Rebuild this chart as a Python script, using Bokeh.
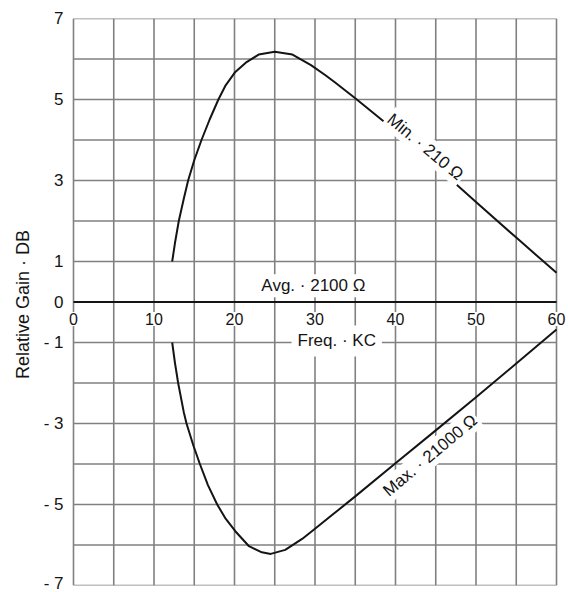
from bokeh.plotting import figure
from bokeh.models import FixedTicker, Label, Grid
from bokeh.embed import file_html
from bokeh.resources import INLINE

# ---- data ----
x_tick_values = [0, 10, 20, 30, 40, 50, 60]
x_grid_values = [0, 5, 10, 15, 20, 25, 30, 35, 40, 45, 50, 55, 60]
y_tick_values = [-7, -5, -3, -1, 0, 1, 3, 5, 7]
y_tick_labels = {-7: "- 7", -5: "- 5", -3: "- 3", -1: "- 1"}
y_grid_values = [-7, -6, -5, -4, -3, -2, -1, 0, 1, 2, 3, 4, 5, 6, 7]

min_freq = [12.26, 12.6, 13.08, 13.7, 14.24, 15.0, 15.9, 16.9, 18.0, 18.9, 20.1, 21.4,
            23.0, 25.0, 27.2, 29.5, 31.3, 32.5, 35.0, 40.0, 45.0, 50.0, 55.0, 60.0]
min_gain = [1.0, 1.45, 2.0, 2.55, 3.0, 3.5, 4.0, 4.5, 5.0, 5.35, 5.68, 5.91,
            6.11, 6.18, 6.11, 5.85, 5.6, 5.42, 5.03, 4.22, 3.36, 2.47, 1.59, 0.72]

max_freq = [12.26, 12.6, 13.0, 13.7, 14.04, 14.9, 15.7, 16.7, 17.85, 18.9, 20.1, 21.8,
            23.4, 24.5, 26.3, 28.4, 30.0, 32.0, 35.0, 40.0, 45.0, 50.0, 55.0, 60.0]
max_gain = [-1.0, -1.5, -2.0, -2.72, -3.0, -3.55, -4.0, -4.52, -5.0, -5.35, -5.66, -6.03,
            -6.18, -6.22, -6.12, -5.85, -5.6, -5.28, -4.8, -3.98, -3.17, -2.35, -1.52, -0.68]

x_title = "Freq. · KC"
y_title = "Relative  Gain · DB"
avg_text = "Avg. · 2100 Ω"
min_text = "Min. · 210 Ω"
max_text = "Max. · 21000 Ω"

FONT = "Liberation Sans"
GRID = "#808080"
INK = "#141414"

x_lo, x_hi = x_grid_values[0], x_grid_values[-1]
y_lo, y_hi = y_grid_values[0], y_grid_values[-1]

# the frame is a little wider than the chart so the end tick labels are not clipped
p = figure(width=568, height=592, x_range=(-1.49, 61.49), y_range=(-7, 7),
           output_backend="svg", toolbar_location=None, x_axis_location=None,
           min_border_left=61, min_border_right=0, min_border_top=18, min_border_bottom=7)
p.background_fill_color = "white"
p.border_fill_color = "white"
p.outline_line_color = None
p.center = [r for r in p.center if not isinstance(r, Grid)]

# grid drawn as segments, limited to the chart box
p.segment(x0=x_grid_values, y0=[y_lo] * len(x_grid_values),
          x1=x_grid_values, y1=[y_hi] * len(x_grid_values),
          line_color=GRID, line_width=1.6)
p.segment(x0=[x_lo] * len(y_grid_values), y0=y_grid_values,
          x1=[x_hi] * len(y_grid_values), y1=y_grid_values,
          line_color=GRID, line_width=1.6)
# zero line
p.segment(x0=[x_lo], y0=[0], x1=[x_hi], y1=[0], line_color=INK, line_width=2)

ax = p.yaxis[0]
ax.ticker = FixedTicker(ticks=y_tick_values)
ax.major_label_overrides = y_tick_labels
ax.major_tick_line_color = None
ax.minor_tick_line_color = None
ax.major_tick_out = 0
ax.major_tick_in = 0
ax.axis_line_color = None
ax.major_label_standoff = -2
ax.major_label_text_font = FONT
ax.major_label_text_font_size = "17px"
ax.major_label_text_color = INK
ax.axis_label = y_title
ax.axis_label_text_font = FONT
ax.axis_label_text_font_style = "normal"
ax.axis_label_text_font_size = "18px"
ax.axis_label_text_color = INK
ax.axis_label_standoff = 8

p.line(min_freq, min_gain, line_color=INK, line_width=2, line_join="round")
p.line(max_freq, max_gain, line_color=INK, line_width=2, line_join="round")

# x tick labels sit just under the zero line, on white
for v in x_tick_values:
    p.add_layout(Label(x=v, y=0, text=str(v), y_offset=-17,
                       text_align="center", text_baseline="middle",
                       text_font=FONT, text_font_size="16px", text_color=INK,
                       background_fill_color="white", padding=1))

def lab(x, y, text, angle=0, pad=2):
    p.add_layout(Label(x=x, y=y, text=text, angle=angle, angle_units="deg",
                       text_align="center", text_baseline="middle",
                       text_font=FONT, text_font_size="17px", text_color=INK,
                       background_fill_color="white", padding=pad))

lab(29.8, 0.4, avg_text)
lab(32.7, -0.96, x_title, pad=6)
lab(43.7, 3.83, min_text, angle=-40)
lab(44.3, -3.79, max_text, angle=40)

open("out.html", "w").write(file_html(p, INLINE))
